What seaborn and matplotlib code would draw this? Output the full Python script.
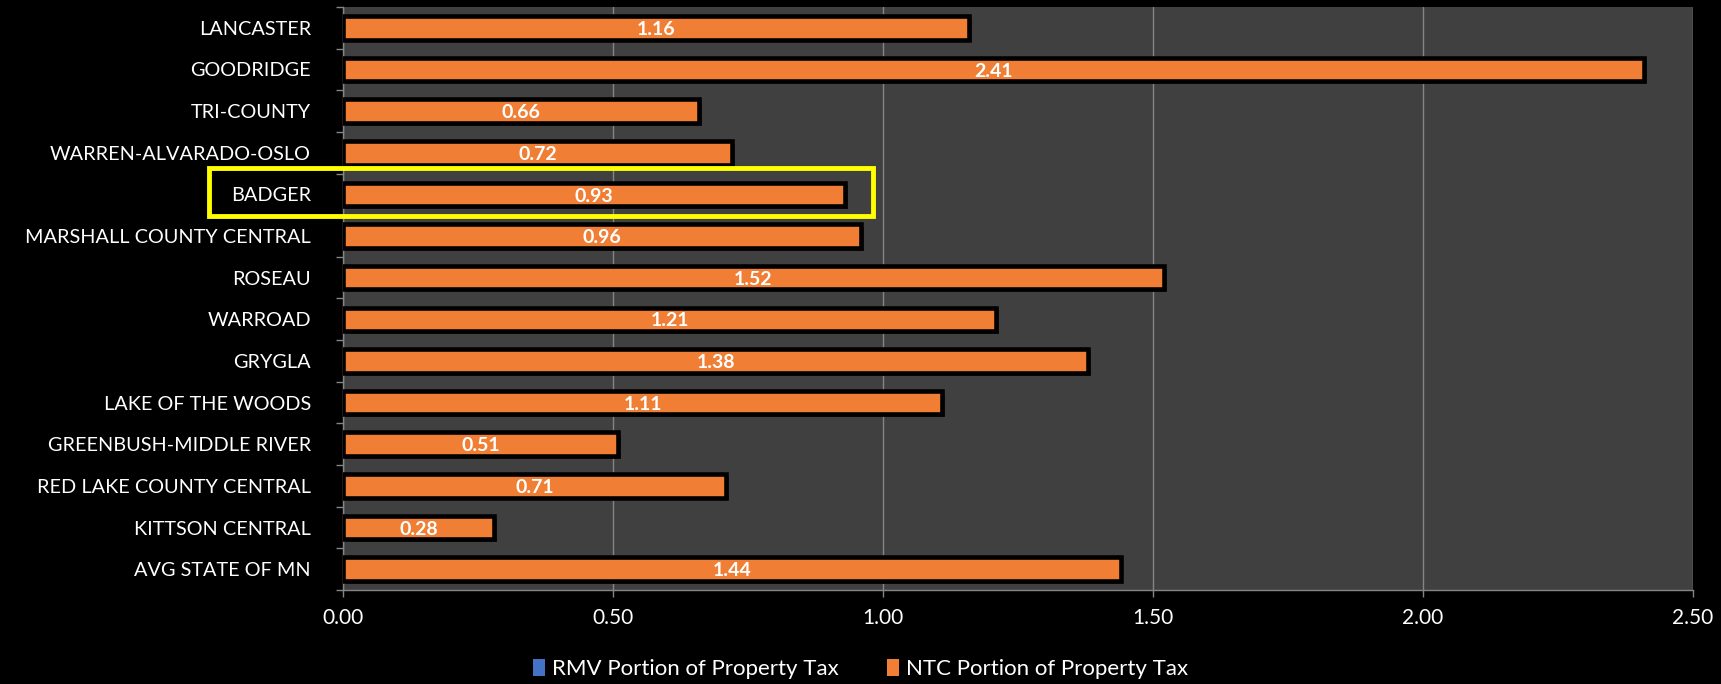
import matplotlib
matplotlib.use("Agg")
import matplotlib.pyplot as plt
import matplotlib.patheffects as pe
from matplotlib.patches import Rectangle, Patch
import numpy as np
import pandas as pd
import seaborn as sns

districts = [
    "LANCASTER", "GOODRIDGE", "TRI-COUNTY", "WARREN-ALVARADO-OSLO", "BADGER",
    "MARSHALL COUNTY CENTRAL", "ROSEAU", "WARROAD", "GRYGLA", "LAKE OF THE WOODS",
    "GREENBUSH-MIDDLE RIVER", "RED LAKE COUNTY CENTRAL", "KITTSON CENTRAL",
    "AVG STATE OF MN",
]
rmv_portion = [0.00, 0.00, 0.00, 0.00, 0.00, 0.00, 0.00, 0.00, 0.00, 0.00, 0.00, 0.00, 0.00, 0.00]
ntc_portion = [1.16, 2.41, 0.66, 0.72, 0.93, 0.96, 1.52, 1.21, 1.38, 1.11, 0.51, 0.71, 0.28, 1.44]
x_ticks = [0.0, 0.5, 1.0, 1.5, 2.0, 2.5]
series_names = ["RMV Portion of Property Tax", "NTC Portion of Property Tax"]
highlight = "BADGER"

RMV_BLUE = "#4472C4"
NTC_ORANGE = "#F07F35"
PANEL = "#404040"
GRID = "#858585"

sns.set_style("dark")
plt.rcParams["font.family"] = ["Lato", "DejaVu Sans"]

df = pd.DataFrame({"district": districts, "rmv": rmv_portion, "ntc": ntc_portion})

fig = plt.figure(figsize=(17.21, 6.84), dpi=100, facecolor="black")
ax = fig.add_axes([0.1993, 0.1374, 0.9837 - 0.1993, 0.9898 - 0.1374])
ax.set_facecolor(PANEL)

bar_h = 0.565
# RMV portion (stacked first, zero-width here)
sns.barplot(data=df, x="rmv", y="district", orient="y", order=districts,
            color=RMV_BLUE, saturation=1, width=bar_h, linewidth=0, ax=ax)
n_rmv = len(ax.patches)
# NTC portion on top of RMV
sns.barplot(data=df, x="ntc", y="district", orient="y", order=districts,
            color=NTC_ORANGE, saturation=1, width=bar_h,
            edgecolor="black", linewidth=3.3, ax=ax)
ntc_bars = ax.patches[n_rmv:]
for bar, left in zip(ntc_bars, rmv_portion):
    bar.set_x(bar.get_x() + left)
    bar.set_path_effects([pe.SimplePatchShadow(offset=(2, -2), shadow_rgbFace="black", alpha=0.5),
                          pe.Normal()])
    bar.set_zorder(3)

for bar, val, left in zip(ntc_bars, ntc_portion, rmv_portion):
    cy = bar.get_y() + bar.get_height() / 2
    ax.text(left + val / 2, cy + 0.04, f"{val:.2f}", ha="center", va="center",
            color="white", fontsize=14, fontweight="bold", zorder=5)

ax.set_xlim(0, 2.5)
ax.set_ylim(len(districts) - 0.5, -0.5)
ax.set_xticks(x_ticks)
ax.set_xticklabels([f"{t:.2f}" for t in x_ticks])
ax.set_xlabel("")
ax.set_ylabel("")

ax.grid(axis="x", color=GRID, linewidth=1.0, zorder=0)
ax.grid(axis="y", visible=False)
ax.set_axisbelow(True)

for side in ["top", "right"]:
    ax.spines[side].set_visible(False)
for side in ["left", "bottom"]:
    ax.spines[side].set_visible(True)
    ax.spines[side].set_color(GRID)
    ax.spines[side].set_linewidth(1.0)

ax.tick_params(axis="x", colors=GRID, labelcolor="white", labelsize=15,
               direction="out", length=5, width=1, pad=8, bottom=True)
ax.tick_params(axis="y", which="major", labelcolor="white", labelsize=14.3,
               length=0, pad=23, left=True)
ax.set_yticks(np.arange(-0.5, len(districts), 1.0), minor=True)
ax.tick_params(axis="y", which="minor", colors=GRID, direction="out",
               length=5, width=1, left=True)

# Highlight box around the selected district
hi = districts.index(highlight)
box = Rectangle((-0.249, hi - 0.63), 0.982 + 0.249, 1.15, fill=False,
                edgecolor="#FFFF00", linewidth=3.5, clip_on=False, zorder=6)
ax.add_patch(box)

handles = [Patch(facecolor=RMV_BLUE, edgecolor="none"),
           Patch(facecolor=NTC_ORANGE, edgecolor="none")]
fig.legend(handles, series_names, loc="center", bbox_to_anchor=(0.5, 0.022),
           ncol=2, frameon=False, fontsize=16, labelcolor="white",
           handlelength=0.55, handleheight=0.8, handletextpad=0.3, columnspacing=2.2)

fig.savefig("out.png", dpi=100, facecolor="black")
